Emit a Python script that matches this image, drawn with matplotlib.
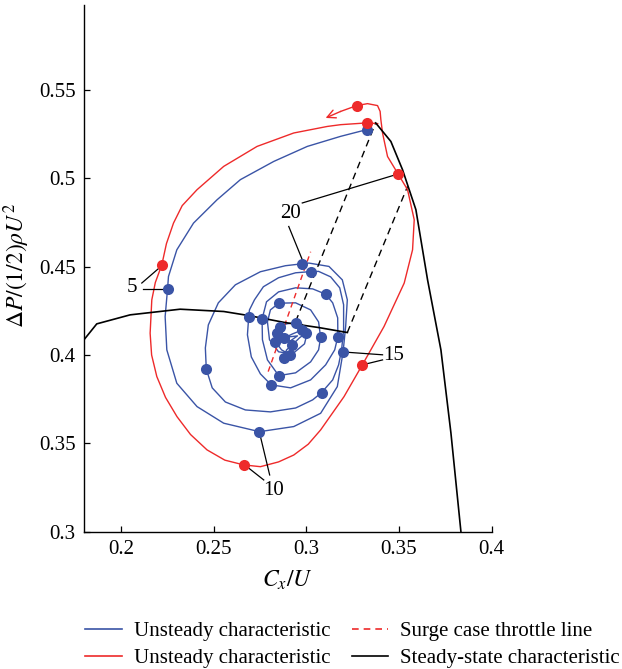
import matplotlib
matplotlib.use("Agg")
import matplotlib.pyplot as plt

plt.rcParams['font.family'] = ['Liberation Serif', 'DejaVu Serif']
plt.rcParams['mathtext.fontset'] = 'stix'

BLUE = '#3a54a6'
RED = '#ee2a2a'

# steady-state characteristic (two branches)
steady_left_x = [0.1800, 0.1869, 0.2049, 0.2319, 0.2554, 0.2689, 0.2887, 0.3068, 0.3221]
steady_left_y = [0.4086, 0.4176, 0.4227, 0.4259, 0.4246, 0.4223, 0.4183, 0.4155, 0.4127]
steady_right_x = [0.3374, 0.3456, 0.3519, 0.3591, 0.3627, 0.3654, 0.3726, 0.3780, 0.3834]
steady_right_y = [0.5313, 0.5208, 0.5048, 0.4822, 0.4595, 0.4425, 0.4029, 0.3559, 0.3000]

# black dashed jump lines
jump1_x = [0.2942, 0.3374]
jump1_y = [0.4189, 0.5313]
jump2_x = [0.3221, 0.3546]
jump2_y = [0.4127, 0.4954]

# surge case throttle line
throttle_x = [0.2794, 0.3023]
throttle_y = [0.3906, 0.4584]

# red unsteady characteristic
red_x = [0.3385, 0.3326, 0.3185, 0.3113, 0.2932, 0.2734, 0.2554, 0.2410, 0.2330, 0.2283,
         0.2245, 0.2220, 0.2185, 0.2166, 0.2157, 0.2165, 0.2193, 0.2240, 0.2302, 0.2375,
         0.2464, 0.2560, 0.2662, 0.2752, 0.2850, 0.2932, 0.3010, 0.3077, 0.3203,
         0.3302, 0.3419, 0.3528, 0.3573, 0.3582, 0.3546, 0.3495, 0.3438, 0.3411, 0.3402,
         0.3398, 0.3384, 0.3330, 0.3272, 0.3185]
red_y = [0.5309, 0.5313, 0.5303, 0.5293, 0.5256, 0.5180, 0.5067, 0.4935, 0.4845, 0.4746,
         0.4630, 0.4510, 0.4410, 0.4312, 0.4123, 0.4000, 0.3878, 0.3760, 0.3651, 0.3550,
         0.3463, 0.3405, 0.3378, 0.3368, 0.3395, 0.3434, 0.3495, 0.3576, 0.3764,
         0.3944, 0.4161, 0.4407, 0.4595, 0.4765, 0.4935, 0.5024, 0.5123, 0.5256, 0.5331,
         0.5378, 0.5411, 0.5422, 0.5411, 0.5378]
red_arrow_tip = (0.3104, 0.5341)
red_dots_x = [0.3326, 0.2220, 0.2662, 0.3302, 0.3495, 0.3272]
red_dots_y = [0.5313, 0.4510, 0.3378, 0.3944, 0.5024, 0.5411]

# blue unsteady characteristic (spiral)
blue_x = [0.3326, 0.3185, 0.3005, 0.2824, 0.2644, 0.2518, 0.2391, 0.2301, 0.2256, 0.2251,
          0.2238, 0.2247, 0.2301, 0.2410, 0.2554, 0.2747, 0.2932, 0.3077, 0.3167, 0.3198,
          0.3212, 0.3221, 0.3194, 0.3122, 0.3014, 0.2978,
          0.2887, 0.2752, 0.2617, 0.2525, 0.2471, 0.2455, 0.2460, 0.2492, 0.2563, 0.2671,
          0.2806, 0.2942, 0.3034, 0.3082, 0.3142, 0.3174, 0.3190, 0.3201, 0.3201, 0.3180,
          0.3131, 0.3066, 0.3027,
          0.2942, 0.2850, 0.2768, 0.2720, 0.2693, 0.2689, 0.2682, 0.2703, 0.2752, 0.2810,
          0.2915, 0.3023, 0.3104, 0.3153, 0.3170, 0.3169, 0.3142, 0.3104,
          0.3034, 0.2942, 0.2850, 0.2785, 0.2761, 0.2763, 0.2790, 0.2851, 0.2942, 0.3023,
          0.3066, 0.3077, 0.3066, 0.3023, 0.2942, 0.2851,
          0.2806, 0.2790, 0.2801, 0.2850, 0.2925, 0.2990, 0.3006, 0.2974, 0.2942, 0.2893,
          0.2860, 0.2843, 0.2833, 0.2866, 0.2914, 0.2878, 0.2893, 0.2924, 0.2963, 0.2996,
          0.2978, 0.2925, 0.2878, 0.2914, 0.2952, 0.2904]
blue_y = [0.5275, 0.5237, 0.5180, 0.5095, 0.4992, 0.4878, 0.4746, 0.4595, 0.4444, 0.4374,
          0.4217, 0.4029, 0.3840, 0.3708, 0.3614, 0.3566, 0.3595, 0.3670, 0.3821, 0.4016,
          0.4161, 0.4312, 0.4425, 0.4501, 0.4520, 0.4516,
          0.4505, 0.4471, 0.4397, 0.4295, 0.4170, 0.4040, 0.3920, 0.3814, 0.3734, 0.3689,
          0.3678, 0.3700, 0.3746, 0.3787, 0.3859, 0.3944, 0.4029, 0.4142, 0.4284, 0.4380,
          0.4442, 0.4473, 0.4472,
          0.4465, 0.4437, 0.4386, 0.4312, 0.4255, 0.4217, 0.4114, 0.3989, 0.3893, 0.3831,
          0.3814, 0.3859, 0.3944, 0.4029, 0.4104, 0.4210, 0.4295, 0.4344,
          0.4374, 0.4380, 0.4357, 0.4301, 0.4203, 0.4086, 0.3972, 0.3883, 0.3899, 0.3961,
          0.4029, 0.4099, 0.4187, 0.4255, 0.4295, 0.4293,
          0.4255, 0.4187, 0.4086, 0.4018, 0.4006, 0.4063, 0.4131, 0.4176, 0.4183, 0.4176,
          0.4157, 0.4127, 0.4076, 0.4029, 0.4001, 0.3982, 0.4029, 0.4057, 0.4097, 0.4123,
          0.4142, 0.4119, 0.4095, 0.4080, 0.4108, 0.4102]
blue_dots_x = [0.3326, 0.2251, 0.2747, 0.3198, 0.2978, 0.2460, 0.3082, 0.3027, 0.2689, 0.2810,
               0.3170, 0.3104, 0.2761, 0.2851, 0.3077, 0.2851, 0.2942, 0.2860, 0.2843, 0.2833,
               0.2914, 0.2878, 0.2924, 0.2996, 0.2978, 0.2878]
blue_dots_y = [0.5275, 0.4374, 0.3566, 0.4016, 0.4516, 0.3920, 0.3787, 0.4472, 0.4217, 0.3831,
               0.4104, 0.4344, 0.4203, 0.3883, 0.4099, 0.4293, 0.4183, 0.4157, 0.4127, 0.4076,
               0.4001, 0.3982, 0.4057, 0.4123, 0.4142, 0.4095]

# time labels: text position and leader lines (start, end)
time_labels = ['5', '10', '15', '20']
label_pos = [(0.2058, 0.4382), (0.2824, 0.3236), (0.3472, 0.3995), (0.2915, 0.4803)]
leaders = [
    [((0.2121, 0.4373), (0.2238, 0.4373)), ((0.2112, 0.4407), (0.2220, 0.4505))],
    [((0.2802, 0.3321), (0.2748, 0.3557)), ((0.2770, 0.3293), (0.2667, 0.3378))],
    [((0.3411, 0.4001), (0.3212, 0.4016)), ((0.3411, 0.3972), (0.3302, 0.3944))],
    [((0.2905, 0.4727), (0.2978, 0.4539)), ((0.2978, 0.4860), (0.3495, 0.5024))],
]

x_ticks = [0.2, 0.25, 0.3, 0.35, 0.4]
x_ticklabels = ['0.2', '0.25', '0.3', '0.35', '0.4']
y_ticks = [0.3, 0.35, 0.4, 0.45, 0.5, 0.55]
y_ticklabels = ['0.3', '0.35', '0.4', '0.45', '0.5', '0.55']

fig = plt.figure(figsize=(6.22, 6.69), dpi=100)
ax = fig.add_axes([0.135, 0.2052, 0.6555, 0.7873])

lw = 1.0
ax.plot(blue_x, blue_y, color=BLUE, lw=lw, zorder=2, solid_joinstyle='round')
ax.plot(red_x, red_y, color=RED, lw=lw, zorder=3, solid_joinstyle='round')
ax.annotate('', xy=red_arrow_tip, xytext=(red_x[-1], red_y[-1]),
            arrowprops=dict(arrowstyle='->', color=RED, lw=lw, shrinkA=0, shrinkB=0,
                            mutation_scale=15), zorder=3)
ax.plot(throttle_x, throttle_y, color=RED, lw=lw, ls=(0, (4, 3)), zorder=2)
ax.plot(jump1_x, jump1_y, color='black', lw=lw, ls=(0, (5, 3.5)), zorder=2)
ax.plot(jump2_x, jump2_y, color='black', lw=lw, ls=(0, (5, 3.5)), zorder=2)
ax.plot(steady_left_x, steady_left_y, color='black', lw=1.2, zorder=4)
ax.plot(steady_right_x, steady_right_y, color='black', lw=1.2, zorder=4)

ax.plot(blue_dots_x, blue_dots_y, 'o', color=BLUE, ms=8, mec='none', zorder=5)
ax.plot(red_dots_x, red_dots_y, 'o', color=RED, ms=8, mec='none', zorder=6)

for lab, pos, segs in zip(time_labels, label_pos, leaders):
    ax.text(pos[0], pos[1], lab, ha='center', va='center', fontsize=15, zorder=7)
    for (a, b) in segs:
        ax.plot([a[0], b[0]], [a[1], b[1]], color='black', lw=0.9, zorder=4)

ax.set_xlim(0.18, 0.4)
ax.set_ylim(0.3, 0.598)
ax.set_xticks(x_ticks)
ax.set_xticklabels(x_ticklabels)
ax.set_yticks(y_ticks)
ax.set_yticklabels(y_ticklabels)
ax.tick_params(direction='in', length=4, width=0.9, labelsize=15, pad=6)
for s in ['top', 'right']:
    ax.spines[s].set_visible(False)
for s in ['left', 'bottom']:
    ax.spines[s].set_linewidth(1.0)

ax.set_xlabel(r'$C_x/U$', fontsize=17)
ax.set_ylabel(r'$\Delta P/(1/2)\rho U^2$', fontsize=17)
ax.xaxis.set_label_coords(0.498, -0.070)
ax.yaxis.set_label_coords(-0.128, 0.506)

handles = [
    plt.Line2D([], [], color=BLUE, lw=1.2),
    plt.Line2D([], [], color=RED, lw=1.2),
    plt.Line2D([], [], color=RED, lw=1.2, ls=(0, (4, 3))),
    plt.Line2D([], [], color='black', lw=1.2),
]
labels = ['Unsteady characteristic', 'Unsteady characteristic',
          'Surge case throttle line', 'Steady-state characteristic']
fig.legend(handles, labels, ncol=2, loc='upper left', bbox_to_anchor=(0.137, 0.071),
           frameon=False, fontsize=15, handlelength=1.75, handletextpad=0.6,
           columnspacing=1.0, labelspacing=0.36, borderaxespad=0, borderpad=0)

fig.savefig('out.png', dpi=100)
